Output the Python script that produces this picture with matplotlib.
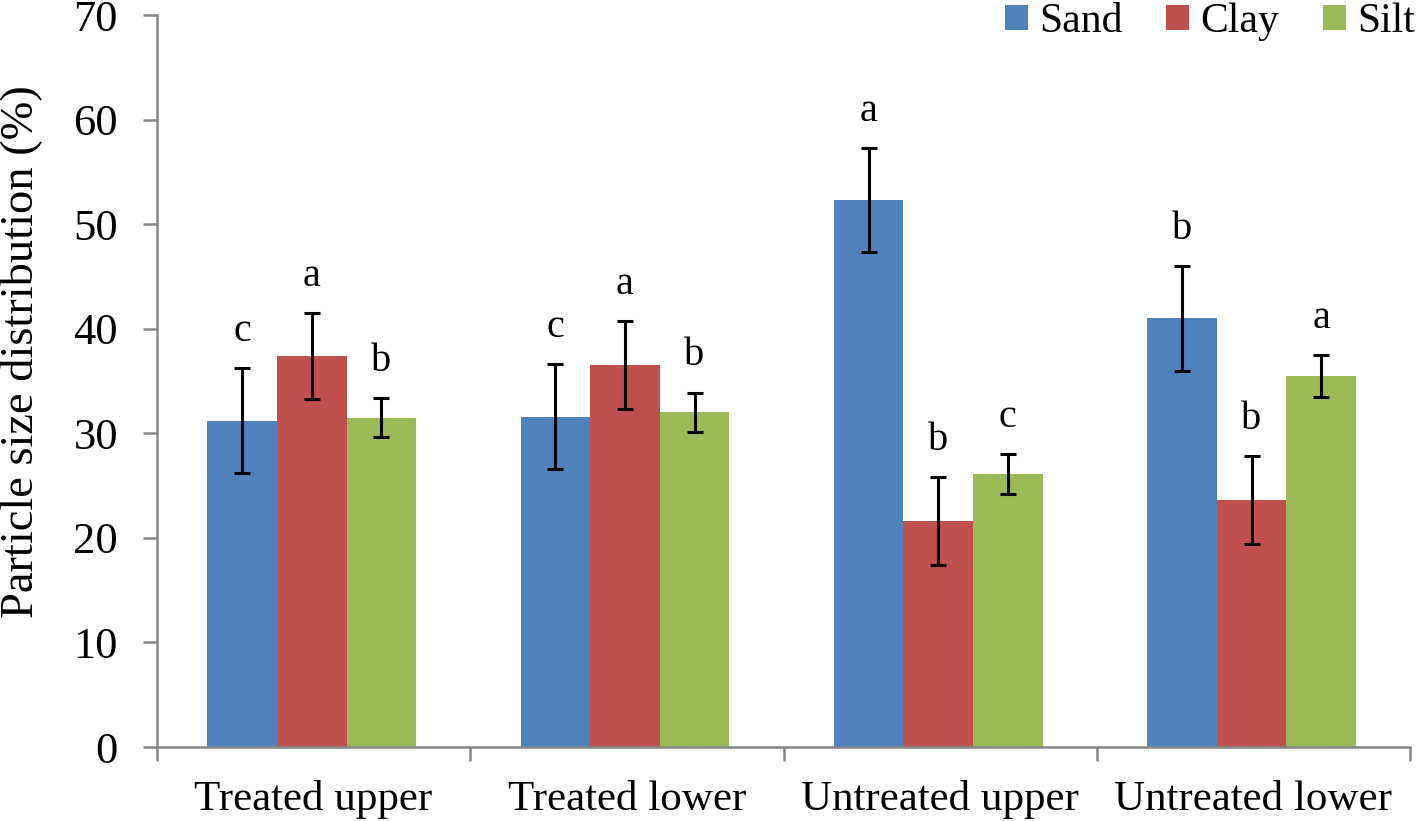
import numpy as np
import matplotlib
matplotlib.use('Agg')
import matplotlib.pyplot as plt

plt.rcParams['font.family'] = ['Liberation Serif', 'DejaVu Serif']

categories = ['Treated upper', 'Treated lower', 'Untreated upper', 'Untreated lower']
series = ['Sand', 'Clay', 'Silt']
colors = ['#4F81BD', '#C0504D', '#9BBB59']

sand = [31.2, 31.6, 52.3, 41.0]
clay = [37.4, 36.5, 21.6, 23.6]
silt = [31.5, 32.0, 26.1, 35.5]
sand_err = [5.0, 5.0, 5.0, 5.0]
clay_err = [4.1, 4.2, 4.2, 4.2]
silt_err = [1.9, 1.9, 1.9, 2.0]
sand_lab = ['c', 'c', 'a', 'b']
clay_lab = ['a', 'a', 'b', 'b']
silt_lab = ['b', 'b', 'c', 'a']

values = [sand, clay, silt]
errors = [sand_err, clay_err, silt_err]
letters = [sand_lab, clay_lab, silt_lab]

fig = plt.figure(figsize=(14.18, 8.21), dpi=100)
ax = fig.add_axes([0.1107, 0.0901, 0.8837, 0.8916])

x = np.arange(len(categories))
w = 0.222
for i, name in enumerate(series):
    pos = x + (i - 1) * w - 0.006
    ax.bar(pos, values[i], w, color=colors[i], label=name, zorder=2)
    ax.errorbar(pos, values[i], yerr=errors[i], fmt='none', ecolor='black',
                elinewidth=2.2, capsize=6, capthick=2.2, zorder=3)
    for p, v, e, t in zip(pos, values[i], errors[i], letters[i]):
        ax.annotate(t, (p, v + e), xytext=(0, 13), textcoords='offset points',
                    ha='center', va='bottom', fontsize=29)

ax.set_xlim(-0.5, 3.5)
ax.set_ylim(0, 70)
ax.set_yticks(range(0, 71, 10))
ax.set_xticks(x)
ax.set_xticklabels(categories)
ax.set_xticks(np.arange(-0.5, 4, 1), minor=True)

gray = '#868686'
for s in ['top', 'right']:
    ax.spines[s].set_visible(False)
for s in ['left', 'bottom']:
    ax.spines[s].set_color(gray)
    ax.spines[s].set_linewidth(1.8)

ax.tick_params(axis='y', direction='out', length=10, width=1.8, color=gray,
               labelsize=32, pad=18)
ax.tick_params(axis='x', which='major', length=0, labelsize=31, pad=24)
ax.tick_params(axis='x', which='minor', direction='out', length=10, width=1.8, color=gray)

ax.set_ylabel('Particle size distribution (%)', fontsize=33.5)
ax.yaxis.set_label_coords(-0.092, 0.54)

ax.legend(loc='upper right', bbox_to_anchor=(1.017, 1.04), ncol=3, frameon=False,
          fontsize=30, handlelength=0.55, handleheight=0.55, handletextpad=0.27,
          columnspacing=1.05, borderaxespad=0)

fig.savefig('out.png', dpi=100)
